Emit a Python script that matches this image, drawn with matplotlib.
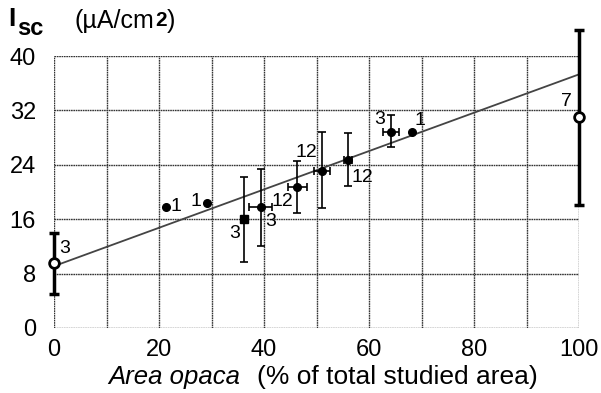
import matplotlib.pyplot as plt

plt.rcParams['font.family'] = ['Liberation Sans', 'DejaVu Sans']

# filled points with error bars
x_pts = [36.2, 39.4, 46.3, 51.0, 56.0, 64.2]
y_pts = [16.0, 17.8, 20.7, 23.1, 24.7, 28.8]
xerr_pts = [0.0, 2.2, 1.8, 1.5, 0.8, 1.5]
yerr_lo = [6.3, 5.7, 3.8, 5.5, 3.8, 2.2]
yerr_hi = [6.2, 5.6, 3.8, 5.7, 4.0, 2.5]
n_pts = ['3', '3', '12', '12', '12', '3']

# single measurements (n = 1)
x_single = [21.3, 29.1, 68.2]
y_single = [17.8, 18.4, 28.8]

# open circles at the ends
x_end = [0, 100]
y_end = [9.6, 31.0]
end_lo = [4.6, 12.9]
end_hi = [4.4, 12.8]
n_end = ['3', '7']

# regression line
fit_x = [0, 100]
fit_y = [9.1, 37.3]

fig = plt.figure(figsize=(6.01, 3.93), dpi=100)
ax = fig.add_axes([0.0899, 0.1654, 0.8735, 0.6921])

ax.set_xlim(0, 100)
ax.set_ylim(0, 40)
ax.set_xticks(range(0, 101, 20))
ax.set_xticks(range(0, 101, 10), minor=True)
ax.set_yticks(range(0, 41, 8))
ax.grid(True, which='both', color='#333333', lw=1.0, ls=(0, (1.2, 0.5)))
ax.tick_params(which='both', length=0, labelsize=17)
ax.tick_params(axis='x', pad=8)
ax.tick_params(axis='y', pad=13)
for s in ax.spines.values():
    s.set_visible(False)
ax.set_axisbelow(True)

ax.plot(fit_x, fit_y, color='#444444', lw=1.3, zorder=3)

ax.errorbar(x_pts, y_pts, xerr=xerr_pts, yerr=[yerr_lo, yerr_hi], fmt='none',
            ecolor='black', elinewidth=1.2, capsize=3, capthick=1.2, zorder=4, clip_on=False)
ax.plot(x_pts[:1], y_pts[:1], 's', color='black', ms=6, zorder=5)
ax.plot(x_pts[1:], y_pts[1:], 'o', color='black', ms=5.5, zorder=5)
ax.plot(x_single, y_single, 'o', color='black', ms=5.5, zorder=5)

ax.errorbar(x_end, y_end, yerr=[end_lo, end_hi], fmt='none', ecolor='black',
            elinewidth=2.5, capsize=3.5, capthick=2.5, zorder=4, clip_on=False)
ax.plot(x_end, y_end, 'o', mfc='white', mec='black', mew=2, ms=7, zorder=6, clip_on=False)

fs = 14
ax.text(1.0, 10.4, n_end[0], fontsize=fs, ha='left', va='bottom')
ax.text(98.6, 32.0, n_end[1], fontsize=fs, ha='right', va='bottom')
ax.text(22.2, 17.8, '1', fontsize=fs, ha='left', va='center')
ax.text(28.0, 18.6, '1', fontsize=fs, ha='right', va='center')
ax.text(68.6, 29.2, '1', fontsize=fs, ha='left', va='bottom')
ax.text(35.4, 15.2, n_pts[0], fontsize=fs, ha='right', va='top')
ax.text(40.2, 16.9, n_pts[1], fontsize=fs, ha='left', va='top')
ax.text(45.6, 18.6, n_pts[2], fontsize=fs, ha='right', va='center')
ax.text(50.2, 24.6, n_pts[3], fontsize=fs, ha='right', va='bottom')
ax.text(56.6, 23.4, n_pts[4], fontsize=fs, ha='left', va='top')
ax.text(63.0, 29.4, n_pts[5], fontsize=fs, ha='right', va='bottom')

fig.text(108 / 601, 0.023, 'Area opaca', style='italic', fontsize=18.5, ha='left', va='baseline')
fig.text(538 / 601, 0.023, '(% of total studied area)', fontsize=19, ha='right', va='baseline')

fig.text(8 / 601, 1 - 26 / 393, 'I', fontsize=19, fontweight='bold', va='baseline')
fig.text(17 / 601, 1 - 35 / 393, 'sc', fontsize=17, fontweight='bold', va='baseline')
t1 = fig.text(75 / 601, 1 - 28 / 393, '(\u00b5A/cm', fontsize=18, va='baseline')
r = fig.canvas.get_renderer()
bb = t1.get_window_extent(r)
t2 = fig.text(bb.x1 / fig.bbox.width, 1 - 26 / 393, '2', fontsize=15, fontweight='bold', va='baseline')
bb2 = t2.get_window_extent(r)
fig.text(bb2.x1 / fig.bbox.width, 1 - 28 / 393, ')', fontsize=18, va='baseline')

fig.savefig('out.png', dpi=100)
